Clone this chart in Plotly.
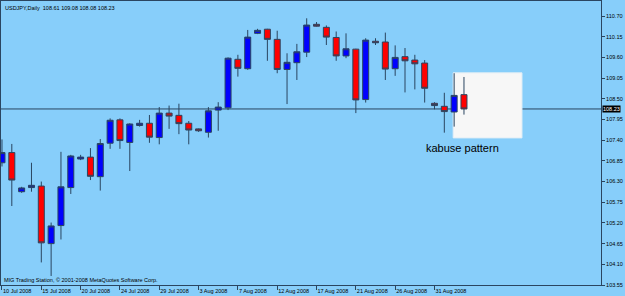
import plotly.graph_objects as go

# ---------------- data ----------------
dates = [
    "2008-07-10", "2008-07-11", "2008-07-13", "2008-07-14", "2008-07-15", "2008-07-16",
    "2008-07-17", "2008-07-18", "2008-07-20", "2008-07-21", "2008-07-22", "2008-07-23",
    "2008-07-24", "2008-07-25", "2008-07-27", "2008-07-28", "2008-07-29", "2008-07-30",
    "2008-07-31", "2008-08-01", "2008-08-03", "2008-08-04", "2008-08-05", "2008-08-06",
    "2008-08-07", "2008-08-08", "2008-08-10", "2008-08-11", "2008-08-12", "2008-08-13",
    "2008-08-14", "2008-08-15", "2008-08-17", "2008-08-18", "2008-08-19", "2008-08-20",
    "2008-08-21", "2008-08-22", "2008-08-24", "2008-08-25", "2008-08-26", "2008-08-27",
    "2008-08-28", "2008-08-29", "2008-08-31", "2008-09-01", "2008-09-02", "2008-09-03",
]
opens = [
    106.80, 107.07, 106.03, 106.14, 106.18, 104.65, 105.13, 106.14, 106.90, 106.95,
    106.43, 107.32, 107.94, 107.34, 107.79, 107.85, 107.47, 108.12, 108.06, 107.85,
    107.70, 107.61, 108.20, 108.26, 109.55, 109.30, 110.24, 110.35, 110.08, 109.28,
    109.46, 109.74, 110.48, 110.40, 110.13, 109.64, 109.82, 108.48, 110.03, 110.01,
    109.30, 109.62, 109.53, 109.45, 108.38, 108.30, 108.15, 108.61,
]
highs = [
    107.42, 107.30, 106.16, 106.80, 106.30, 105.21, 107.09, 107.01, 107.01, 107.19,
    107.43, 107.98, 107.98, 107.85, 107.94, 108.07, 108.28, 108.32, 108.37, 107.91,
    107.71, 108.28, 108.41, 109.60, 109.67, 110.33, 110.36, 110.36, 110.31, 109.71,
    109.96, 110.64, 110.54, 110.45, 110.29, 110.24, 109.83, 110.11, 110.11, 110.26,
    109.92, 109.85, 109.67, 109.53, 108.41, 108.66, 109.18, 109.08,
]
lows = [
    106.70, 105.65, 106.00, 106.03, 104.15, 103.79, 104.76, 105.97, 106.87, 106.34,
    106.06, 107.17, 107.17, 106.58, 107.76, 107.33, 107.29, 107.70, 107.56, 107.29,
    107.62, 107.47, 107.65, 108.20, 109.09, 109.27, 110.22, 109.51, 109.18, 108.36,
    109.00, 109.61, 110.42, 109.93, 109.51, 109.58, 108.12, 108.40, 109.93, 109.00,
    109.11, 108.67, 108.75, 108.40, 108.22, 107.60, 107.76, 108.08,
]
closes = [
    107.07, 106.34, 106.13, 106.20, 104.67, 105.12, 106.16, 106.98, 106.95, 106.44,
    107.31, 107.93, 107.39, 107.83, 107.85, 107.48, 108.12, 108.04, 107.84, 107.67,
    107.65, 108.18, 108.28, 109.58, 109.31, 110.14, 110.32, 110.08, 109.28, 109.47,
    109.75, 110.46, 110.43, 110.14, 109.64, 109.83, 108.47, 110.06, 109.99, 109.29,
    109.60, 109.51, 109.43, 108.78, 108.32, 108.16, 108.59, 108.23,
]
tick_dates = [
    "2008-07-10", "2008-07-15", "2008-07-20", "2008-07-24", "2008-07-29", "2008-08-03",
    "2008-08-07", "2008-08-12", "2008-08-17", "2008-08-21", "2008-08-26", "2008-08-31",
]
tick_labels = [
    "10 Jul 2008", "15 Jul 2008", "20 Jul 2008", "24 Jul 2008", "29 Jul 2008", "3 Aug 2008",
    "7 Aug 2008", "12 Aug 2008", "17 Aug 2008", "21 Aug 2008", "26 Aug 2008", "31 Aug 2008",
]
price_ticks = [110.70, 110.15, 109.60, 109.05, 108.50, 107.95, 107.40,
               106.85, 106.30, 105.75, 105.20, 104.65, 104.10, 103.55]
last_price = 108.23
title_text = "USDJPY,Daily  108.61 109.08 108.08 108.23"
footer_text = "MIG Trading Station, \u00a9 2001-2008 MetaQuotes Software Corp."
note_text = "kabuse pattern"

# pattern highlight box (index / price coordinates)
box_x = [45.9, 52.9]
box_y = [107.46, 109.19]
note_pos = (46.8, 107.19)

# ---------------- style ----------------
BG = "#87CEFA"
FG = "#2a4560"
SMALL = dict(family="Liberation Sans, Arial", size=5.5, color="black")

fig = go.Figure(go.Candlestick(
    x=dates, open=opens, high=highs, low=lows, close=closes,
    increasing=dict(fillcolor="#0000FF", line=dict(color=FG, width=1)),
    decreasing=dict(fillcolor="#FF0000", line=dict(color=FG, width=1)),
    whiskerwidth=0, showlegend=False, hoverinfo="skip",
))

fig.update_layout(
    width=625, height=296, autosize=False,
    margin=dict(l=1, r=24, t=1, b=11, pad=0),
    paper_bgcolor=BG, plot_bgcolor=BG,
    boxgap=0.39, boxgroupgap=0,
    showlegend=False,
    xaxis=dict(
        type="category", categoryorder="array", categoryarray=dates,
        range=[-0.1, 60.94], rangeslider=dict(visible=False),
        showgrid=False, zeroline=False, automargin=False,
        showline=True, linecolor=FG, linewidth=1, mirror=True,
        tickmode="array", tickvals=tick_dates, ticktext=tick_labels,
        ticks="outside", ticklen=4, tickcolor=FG, tickwidth=1, tickangle=0,
        ticklabelposition="outside right",
        tickfont=SMALL,
    ),
    yaxis=dict(
        side="right", range=[103.55, 111.10],
        showgrid=False, zeroline=False, automargin=False,
        showline=True, linecolor=FG, linewidth=1, mirror=True,
        tickmode="array", tickvals=price_ticks,
        ticktext=[f"{v:.2f}" for v in price_ticks],
        ticks="outside", ticklen=3, tickcolor=FG, tickwidth=1,
        tickfont=SMALL,
    ),
    shapes=[
        dict(type="rect", xref="x", yref="y", layer="below",
             x0=box_x[0], x1=box_x[1], y0=box_y[0], y1=box_y[1],
             fillcolor="#F7F7F7", line=dict(color="#E2EEF6", width=1)),
        dict(type="line", xref="paper", yref="y", layer="below",
             x0=0, x1=1, y0=last_price, y1=last_price,
             line=dict(color=FG, width=1)),
    ],
    annotations=[
        dict(text=title_text, xref="paper", yref="paper", x=0, y=1,
             xanchor="left", yanchor="top", xshift=2, yshift=-2,
             showarrow=False, font=SMALL),
        dict(text=footer_text, xref="paper", yref="paper", x=0, y=0,
             xanchor="left", yanchor="bottom", xshift=1, yshift=0,
             showarrow=False, font=SMALL),
        dict(text=note_text, xref="x", yref="y", x=note_pos[0], y=note_pos[1],
             xanchor="center", yanchor="middle", showarrow=False,
             font=dict(family="Arial, Liberation Sans", size=11, color="black")),
        dict(text=f"{last_price:.2f}", xref="paper", yref="y", x=1, y=last_price,
             xanchor="left", yanchor="middle", xshift=1, showarrow=False,
             bgcolor="black", borderpad=0,
             font=dict(family="Liberation Sans, Arial", size=5.5, color="white")),
    ],
)

fig.write_html("out.html")
